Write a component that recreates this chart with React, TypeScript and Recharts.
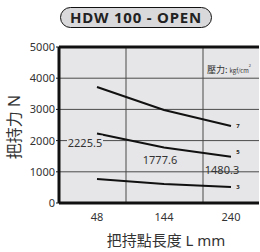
import { LineChart, Line, CartesianGrid, XAxis, YAxis, ReferenceLine, LabelList } from 'recharts';

const lengths: string[] = ['48', '144', '240'];
const force7: number[] = [3720, 2980, 2470];
const force5: number[] = [2225.5, 1777.6, 1480.3];
const force3: number[] = [770, 610, 510];
const yTicks: number[] = [0, 1000, 2000, 3000, 4000, 5000];
const pressures: string[] = ['7', '5', '3'];

const data = lengths.map((l, i) => ({ len: l, p7: force7[i], p5: force5[i], p3: force3[i] }));

const font = '"Noto Sans", "Noto Sans CJK TC", sans-serif';

// offsets for the value labels of the 5 kgf line
const valueOffsets = [
  { dx: -12, dy: 9 },
  { dx: -4, dy: 12 },
  { dx: -9, dy: 13 },
];

const ValueLabel = (props: any) => {
  const { x, y, index, value } = props;
  const o = valueOffsets[index];
  const cx = x + o.dx;
  const cy = y + o.dy;
  return (
    <g>
      {index === 0 && <rect x={cx - 18} y={cy - 7} width={36} height={13} fill="#e6e6e8" />}
      <text x={cx} y={cy} textAnchor="middle" dominantBaseline="central" fontSize={11} fill="#333" fontFamily={font}>
        {value.toFixed(1)}
      </text>
    </g>
  );
};

const endLabel = (name: string, dy: number) => (props: any) => {
  const { x, y, index } = props;
  if (index !== lengths.length - 1) return null;
  return (
    <text x={x + 7} y={y + dy} textAnchor="middle" dominantBaseline="central" fontSize={6} fontWeight="bold" fill="#222" fontFamily={font}>
      {name}
    </text>
  );
};

const XTitle = (props: any) => {
  const { viewBox } = props;
  const cx = viewBox.x + viewBox.width / 2 + 7;
  return (
    <text x={cx} y={240} textAnchor="middle" dominantBaseline="central" fontSize={15} fill="#333" fontFamily={font}>
      把持點長度 L mm
    </text>
  );
};

const YTitle = () => (
  <text x={14} y={127} transform="rotate(-90, 14, 127)" textAnchor="middle" dominantBaseline="central" fontSize={16} fill="#333" fontFamily={font}>
    把持力 N
  </text>
);

const App = () => (
  <div style={{ position: 'absolute', left: 0, top: 0, width: 260, height: 252, background: '#fff' }}>
    <LineChart width={260} height={252} data={data} margin={{ top: 47, right: 1, bottom: 0, left: 0 }}>
      <CartesianGrid fill="#e6e6e8" stroke="#4a4a4a" strokeWidth={1} verticalPoints={[126, 203]} />
      <XAxis
        dataKey="len"
        height={49}
        padding={{ left: 38, right: 28 }}
        tickLine={false}
        axisLine={{ stroke: '#111', strokeWidth: 3 }}
        tick={{ fontSize: 11, fill: '#333', fontFamily: font }}
        tickMargin={4}
        label={<XTitle />}
      />
      <YAxis
        width={59}
        domain={[0, 5000]}
        ticks={yTicks}
        interval={0}
        tickSize={3}
        tickLine={{ stroke: '#111' }}
        axisLine={{ stroke: '#111', strokeWidth: 3 }}
        tick={{ fontSize: 11, fill: '#333', fontFamily: font }}
        tickMargin={1}
        label={<YTitle />}
      />
      <ReferenceLine y={5000} stroke="#111" strokeWidth={3} />
      <Line type="linear" dataKey="p7" stroke="#111" strokeWidth={2} dot={false} isAnimationActive={false}>
        <LabelList dataKey="p7" content={endLabel(pressures[0], 0)} />
      </Line>
      <Line type="linear" dataKey="p5" stroke="#111" strokeWidth={2} dot={false} isAnimationActive={false}>
        <LabelList dataKey="p5" content={ValueLabel} />
        <LabelList dataKey="p5" content={endLabel(pressures[1], -5)} />
      </Line>
      <Line type="linear" dataKey="p3" stroke="#111" strokeWidth={2} dot={false} isAnimationActive={false}>
        <LabelList dataKey="p3" content={endLabel(pressures[2], 0)} />
      </Line>
    </LineChart>
    <div
      style={{
        position: 'absolute', left: 60, top: 7, width: 150, height: 19, borderRadius: 11,
        border: '1.5px solid #111', background: '#d9d9db', textAlign: 'center', lineHeight: '19px',
        fontSize: 15, letterSpacing: 0.8, fontWeight: 'bold', fontFamily: font, color: '#222',
      }}
    >
      HDW 100 - OPEN
    </div>
    <div style={{ position: 'absolute', left: 207, top: 55, lineHeight: '20px', fontFamily: '"Noto Sans CJK TC", sans-serif', color: '#333', whiteSpace: 'nowrap' }}>
      <span style={{ fontSize: 9 }}>壓力: </span>
      <span style={{ fontSize: 6 }}>kgf/cm</span>
      <sup style={{ fontSize: 4 }}>2</sup>
    </div>
  </div>
);

export default App;
